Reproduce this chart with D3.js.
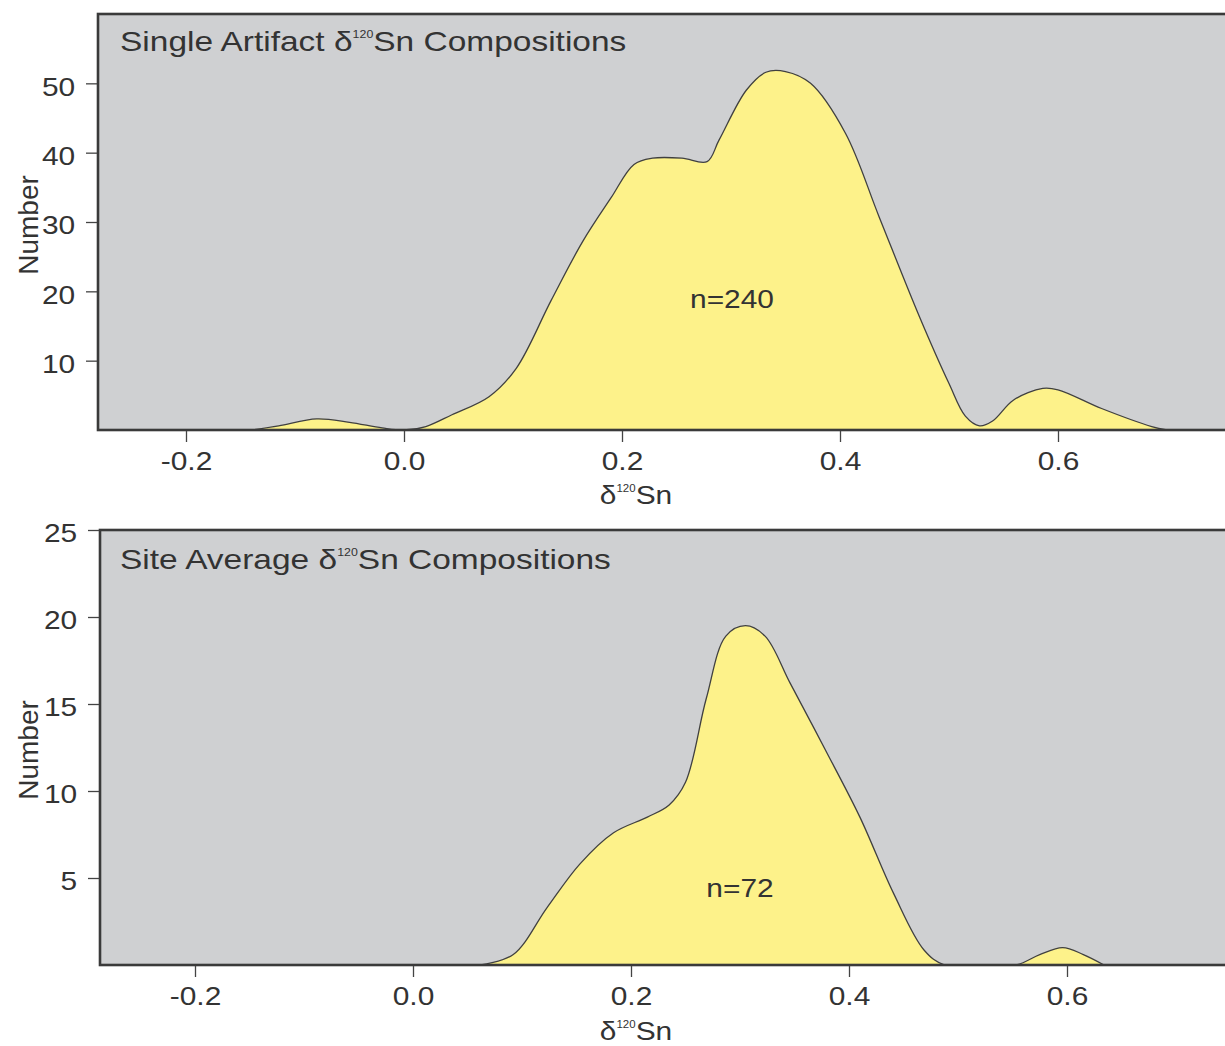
<!DOCTYPE html>
<html lang="en">
<head>
<meta charset="UTF-8">
<title>Sn isotope compositions</title>
<script src="https://d3js.org/d3.v7.min.js"></script>
<style>
  body { margin: 0; background: #fff; }
  svg { display: block; font-family: "Liberation Sans", Arial, sans-serif; }
</style>
</head>
<body>
<div id="chart"></div>
<script>
    // values
    var singleX = [-0.14, -0.115, -0.08, -0.05, -0.02, 0.0, 0.02, 0.044, 0.078, 0.103, 0.135, 0.164, 0.19, 0.211, 0.228, 0.255, 0.278, 0.289, 0.314, 0.332, 0.35, 0.373, 0.405, 0.436, 0.473, 0.5, 0.515, 0.528, 0.54, 0.559, 0.586, 0.6, 0.64, 0.686, 0.7];
    var singleN = [0, 0.6, 1.6, 1.1, 0.3, 0, 0.5, 2.2, 4.8, 8.9, 18.7, 27.2, 33.5, 38.3, 39.2, 39.2, 38.7, 41.8, 49, 51.6, 51.7, 50, 42.8, 30.7, 16.3, 6.7, 2, 0.6, 1.3, 4.3, 6.0, 5.8, 3.1, 0.5, 0];

    var siteX = [0.062, 0.092, 0.123, 0.153, 0.184, 0.215, 0.235, 0.25, 0.269, 0.287, 0.305, 0.323, 0.346, 0.378, 0.41, 0.441, 0.469, 0.488, 0.553, 0.575, 0.596, 0.615, 0.634];
    var siteN = [0, 0.6, 3.3, 5.8, 7.6, 8.5, 9.2, 10.5, 15.3, 18.9, 19.5, 18.9, 16.2, 12.4, 8.5, 4.1, 0.85, 0, 0, 0.6, 1.0, 0.6, 0];

    var xTicks = [-0.2, 0.0, 0.2, 0.4, 0.6];
    var singleTicks = [10, 20, 30, 40, 50];
    var siteTicks = [5, 10, 15, 20, 25];
    var titles = ["Single Artifact δ", "Site Average δ"];
    var counts = ["n=240", "n=72"];

    var W = 1225, H = 1046;
    var svg = d3.select("#chart").append("svg")
        .attr("width", W)
        .attr("height", H);

    var ink = "#333";
    var stretch = 1.15;

    function panel(opt, idx) {
        var x = d3.scaleLinear().domain([-0.2, 0.6]).range(opt.xr);
        var y = d3.scaleLinear().domain([0, opt.ymax]).range([opt.bottom, opt.top]);
        var left = opt.left;
        var pts = opt.xs.map((v, i) => [v, opt.ys[i]]);
        var g = svg.append("g");
        var curve = d3.curveCatmullRom.alpha(0.5);

        // keep the smooth curve inside the field
        g.append("clipPath").attr("id", "clip" + idx)
            .append("rect")
            .attr("x", left).attr("y", opt.top)
            .attr("width", W + 20 - left).attr("height", opt.bottom - opt.top);

        // grey plotting field
        g.append("rect")
            .attr("x", left).attr("y", opt.top)
            .attr("width", W + 20 - left).attr("height", opt.bottom - opt.top)
            .attr("fill", "#cfd0d2");

        var plot = g.append("g").attr("clip-path", "url(#clip" + idx + ")");

        plot.append("path")
            .datum(pts)
            .attr("fill", "#fdf28a")
            .attr("d", d3.area()
                .x(d => x(d[0]))
                .y0(y(0))
                .y1(d => y(d[1]))
                .curve(curve));

        plot.append("path")
            .datum(pts)
            .attr("fill", "none")
            .attr("stroke", "#404040")
            .attr("stroke-width", 1.3)
            .attr("d", d3.line()
                .x(d => x(d[0]))
                .y(d => y(d[1]))
                .curve(curve));

        // frame (right side runs off the picture)
        g.append("rect")
            .attr("x", left).attr("y", opt.top)
            .attr("width", W + 20 - left).attr("height", opt.bottom - opt.top)
            .attr("fill", "none")
            .attr("stroke", "#3a3a3a")
            .attr("stroke-width", 2.6);

        var xa = g.append("g")
            .attr("transform", "translate(0," + (opt.bottom + 1) + ")")
            .call(d3.axisBottom(x).tickValues(xTicks).tickFormat(d => d.toFixed(1)).tickSize(11).tickPadding(10));
        var ya = g.append("g")
            .attr("transform", "translate(" + (left - 1) + ",0)")
            .call(d3.axisLeft(y).tickValues(opt.yticks).tickSize(11).tickPadding(8));

        [xa, ya].forEach(a => {
            a.select(".domain").remove();
            a.selectAll("line").attr("stroke", "#444").attr("stroke-width", 1.3);
            a.selectAll("text")
                .attr("fill", ink)
                .style("font-size", "26px")
                .attr("transform", "scale(" + stretch + ",1)");
        });
        ya.selectAll("text").attr("dy", "0.45em");

        // panel title with superscript mass number
        var t = g.append("text")
            .attr("transform", "translate(120," + opt.titleY + ") scale(1.24,1)")
            .attr("fill", ink)
            .style("font-size", "27px");
        t.append("tspan").text(opt.title);
        t.append("tspan").text("120").style("font-size", "10px").attr("dy", -13);
        t.append("tspan").text("Sn Compositions").attr("dy", 13);

        g.append("text")
            .attr("transform", "translate(" + opt.nx + "," + opt.ny + ") scale(" + stretch + ",1)")
            .attr("text-anchor", "middle")
            .attr("fill", ink)
            .style("font-size", "26px")
            .text(opt.count);

        var xl = g.append("text")
            .attr("transform", "translate(636," + opt.xlabY + ") scale(" + stretch + ",1)")
            .attr("text-anchor", "middle")
            .attr("fill", ink)
            .style("font-size", "26px");
        xl.append("tspan").text("δ");
        xl.append("tspan").text("120").style("font-size", "10px").attr("dy", -12);
        xl.append("tspan").text("Sn").attr("dy", 12);

        g.append("text")
            .attr("transform", "translate(38," + opt.ylabY + ") rotate(-90)")
            .attr("text-anchor", "middle")
            .attr("fill", ink)
            .style("font-size", "28px")
            .text("Number");
    }

    panel({xs: singleX, ys: singleN, ymax: 60, yticks: singleTicks,
        xr: [186, 1058], left: 98, top: 14, bottom: 430,
        title: titles[0], titleY: 51, count: counts[0], nx: 732, ny: 308,
        xlabY: 504, ylabY: 225}, 0);

    panel({xs: siteX, ys: siteN, ymax: 25, yticks: siteTicks,
        xr: [195, 1067], left: 100, top: 530, bottom: 965,
        title: titles[1], titleY: 569, count: counts[1], nx: 740, ny: 897,
        xlabY: 1040, ylabY: 750}, 1);
</script>
</body>
</html>
